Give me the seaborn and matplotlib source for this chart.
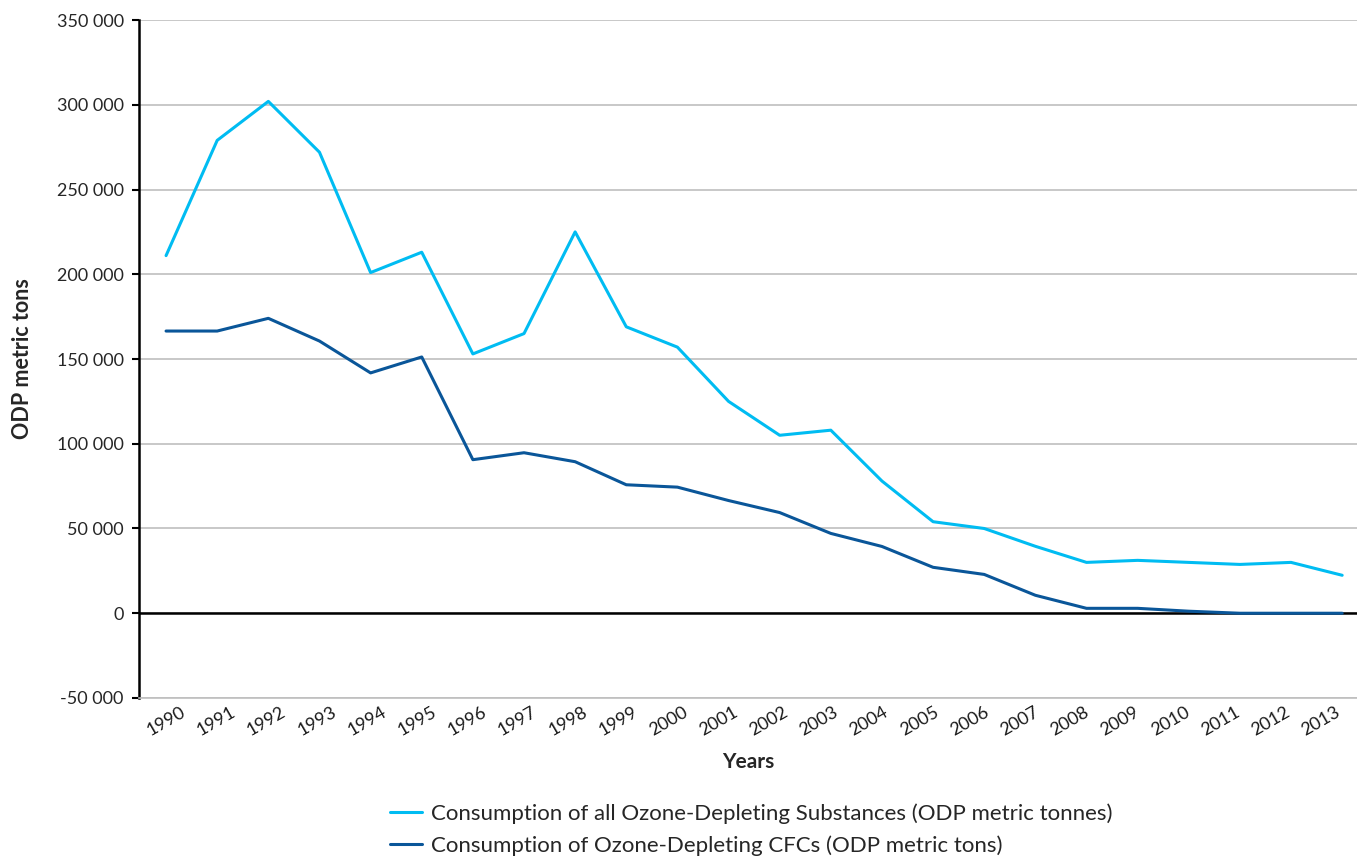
import matplotlib
matplotlib.use("Agg")
import matplotlib.pyplot as plt
import seaborn as sns
import pandas as pd
import numpy as np
from matplotlib.lines import Line2D

years = list(range(1990, 2014))
all_ods = [211000, 279000, 302000, 272000, 201000, 213000, 153000, 165000, 225000,
           169000, 157000, 125000, 105000, 108000, 78000, 54000, 50000, 39500,
           30000, 31200, 30000, 28800, 30000, 22400]
cfcs = [166500, 166500, 174000, 160600, 141800, 151200, 90600, 94700, 89400,
        75800, 74400, 66500, 59400, 47100, 39400, 27100, 22900, 10600,
        2900, 2900, 1200, 0, 0, 0]
label_all = "Consumption of all Ozone-Depleting Substances (ODP metric tonnes)"
label_cfc = "Consumption of Ozone-Depleting CFCs (ODP metric tons)"
yticks = list(range(-50000, 350001, 50000))

sns.set_theme(style="white")
plt.rcParams['font.family'] = ['Lato', 'DejaVu Sans']

df = pd.DataFrame({
    "idx": list(range(len(years))) * 2,
    "value": all_ods + cfcs,
    "series": [label_all] * len(years) + [label_cfc] * len(years),
})

fig = plt.figure(figsize=(13.57, 8.56), dpi=100)
ax = fig.add_axes([0.1024, 0.1846, 0.8976, 0.792])

sns.lineplot(data=df, x="idx", y="value", hue="series",
             palette={label_all: "#00BCF2", label_cfc: "#0A5699"},
             linewidth=2.2, ax=ax, legend=False)

ax.set_xlim(-0.53, 23.29)
ax.set_ylim(-50000, 350000)
ax.set_yticks(yticks)
ax.set_yticklabels([f"{v:,}".replace(",", " ") for v in yticks], fontsize=13)
ax.set_xticks(range(len(years)))
ax.set_xticklabels([])
# year labels, drifting slightly left of their categories as in the reference
for i, yr in enumerate(years):
    ax.annotate(str(yr), xy=(i, 0), xycoords=ax.get_xaxis_transform(),
                xytext=(-i * 0.66, -4), textcoords="offset points",
                rotation=30, ha="center", va="top", fontsize=13, color="#1a1a1a")
ax.tick_params(axis="x", length=0, pad=4)
ax.tick_params(axis="y", length=5, width=1.5, color="black", direction="out", left=True, pad=6)

ax.grid(axis="y", color="#BFBFBF", linewidth=1.2)
ax.set_axisbelow(True)
ax.axhline(0, color="black", linewidth=1.8, zorder=1.5)

for s in ["top", "right"]:
    ax.spines[s].set_visible(False)
ax.spines["left"].set_color("black")
ax.spines["left"].set_linewidth(1.8)
ax.spines["bottom"].set_color("#BFBFBF")
ax.spines["bottom"].set_linewidth(1.2)

ax.set_xlabel("Years", fontsize=15, fontweight="bold", labelpad=35)
ax.set_ylabel("ODP metric tons", fontsize=15.5, fontweight="bold", labelpad=17)

handles = [Line2D([], [], color="#00BCF2", lw=2.2), Line2D([], [], color="#0A5699", lw=2.2)]
fig.legend(handles, [label_all, label_cfc], loc="center", bbox_to_anchor=(0.5535, 0.031),
           ncol=1, frameon=False, fontsize=16, handlelength=1.44, handletextpad=0.4,
           labelspacing=0.49)

fig.savefig("out.png", dpi=100)
